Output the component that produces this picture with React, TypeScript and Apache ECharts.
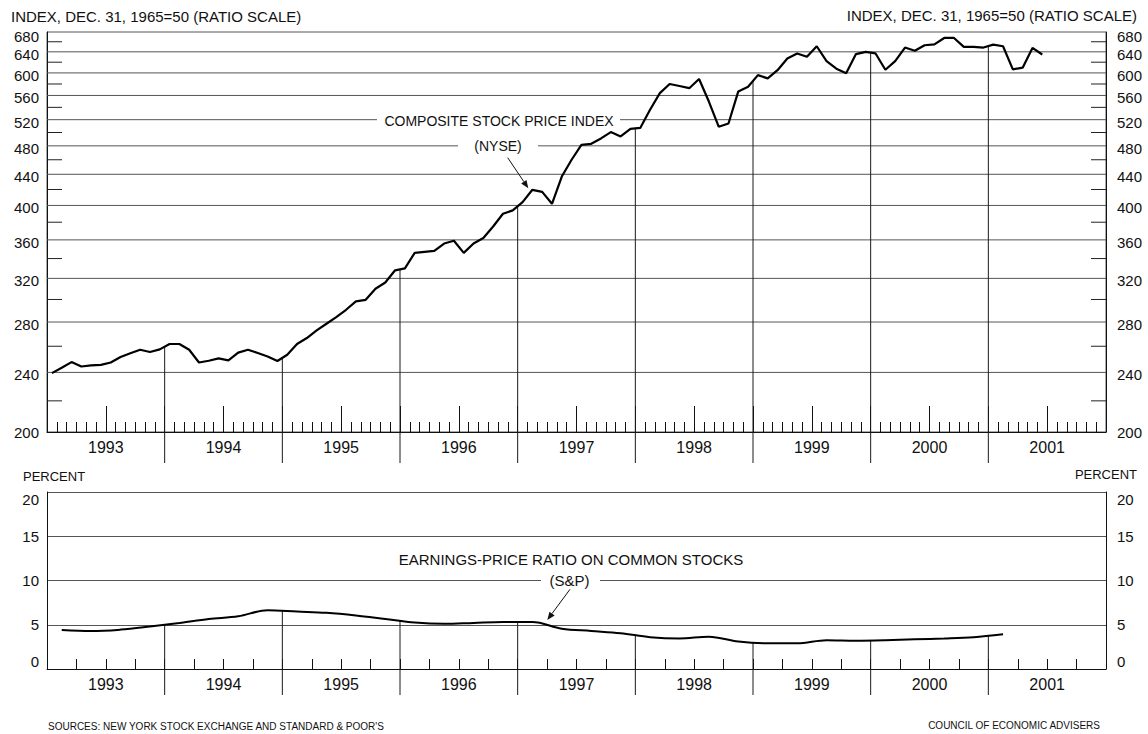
import React, { useEffect, useRef } from "react";
import * as echarts from "echarts";

const FONT = "'Liberation Sans', Arial, sans-serif";

const yearLabels = ["1993", "1994", "1995", "1996", "1997", "1998", "1999", "2000", "2001"];

// NYSE composite stock price index, monthly (Dec. 31, 1965 = 50)
const nyse1993 = [239.5, 243.5, 247.7, 244.4, 245.2, 245.6, 247.4, 251.6, 254.5, 257.2, 255.5, 257.5];
const nyse1994 = [261.8, 261.8, 257.2, 247.4, 248.7, 250.5, 249, 255, 257.2, 254.7, 252, 248.5];
const nyse1995 = [253.3, 261.8, 266.6, 272.9, 278.5, 284.3, 290.7, 298.2, 299.7, 310, 316, 328];
const nyse1996 = [330, 346, 347, 348, 356, 359, 346, 356, 362, 375, 390, 394];
const nyse1997 = [404, 419.6, 417, 402, 437, 460, 481.5, 483, 491, 500.6, 494, 505.6];
const nyse1998 = [507, 536, 564, 580, 576.5, 572.6, 589, 549.7, 509, 514, 567, 575];
const nyse1999 = [596, 590, 605, 627, 636.8, 630.3, 651, 622, 607.7, 599.4, 635.5, 640];
const nyse2000 = [636.8, 605.8, 622, 648.4, 642, 653, 654.8, 667.7, 667.7, 649.7, 649.7, 648.4];
const nyse2001 = [654.2, 651, 606.5, 609.7, 647.7, 634.8];

// Earnings-price ratio on common stocks (S&P), quarterly, percent
const ep1993 = [4.4, 4.28, 4.45, 4.8];
const ep1994 = [5.2, 5.65, 5.95, 6.65];
const ep1995 = [6.5, 6.35, 6.05, 5.65];
const ep1996 = [5.25, 5.1, 5.2, 5.3];
const ep1997 = [5.3, 4.55, 4.3, 4.05];
const ep1998 = [3.6, 3.45, 3.65, 3.1];
const ep1999 = [2.9, 2.9, 3.25, 3.2];
const ep2000 = [3.25, 3.35, 3.45, 3.6];
const ep2001 = [3.92];

const indexTicks = [200, 240, 280, 320, 360, 400, 440, 480, 520, 560, 600, 640, 680];
const indexMinorTicks = [220, 260, 300, 340, 380, 420, 460, 500, 540, 580, 620, 660];
const percentTicks = [0, 5, 10, 15, 20];

const nyseComposite = [
  ...nyse1993, ...nyse1994, ...nyse1995, ...nyse1996, ...nyse1997,
  ...nyse1998, ...nyse1999, ...nyse2000, ...nyse2001,
];
const epRatio = [
  ...ep1993, ...ep1994, ...ep1995, ...ep1996, ...ep1997,
  ...ep1998, ...ep1999, ...ep2000, ...ep2001,
];

const MONTHS = yearLabels.length * 12;
const INDEX_MIN = indexTicks[0];
const INDEX_MAX = indexTicks[indexTicks.length - 1];

function arrow(x1: number, y1: number, x2: number, y2: number) {
  const dx = x2 - x1;
  const dy = y2 - y1;
  const L = Math.hypot(dx, dy);
  const ux = dx / L;
  const uy = dy / L;
  const hl = 8;
  const hw = 3.2;
  const bx = x2 - ux * hl;
  const by = y2 - uy * hl;
  return [
    { type: "line", z: 30, shape: { x1, y1, x2: bx, y2: by }, style: { stroke: "#111", lineWidth: 1 } },
    {
      type: "polygon",
      z: 30,
      shape: { points: [[x2, y2], [bx - uy * hw, by + ux * hw], [bx + uy * hw, by - ux * hw]] },
      style: { fill: "#111" },
    },
  ];
}

function label(text: string, x: number, y: number, size: number, align = "left", extra: any = {}) {
  return {
    type: "text",
    z: 30,
    x,
    y,
    style: {
      text,
      fill: "#111",
      font: `${size}px ${FONT}`,
      textAlign: align,
      textVerticalAlign: "middle",
      ...extra,
    },
  };
}

function whiteGap(x: number, y: number, w: number, h: number) {
  return { type: "rect", z: 25, shape: { x, y, width: w, height: h }, style: { fill: "#fff" } };
}

function buildOption(): any {
  const nysePoints = nyseComposite.map((v, i) => [i + 0.5, v]);
  const epPoints = epRatio.map((v, q) => [q * 3 + 1.5, v]);

  const nyseDrops: number[][] = [];
  for (let k = 1; k < yearLabels.length; k++) {
    const b = k * 12;
    if (b < nyseComposite.length) nyseDrops.push([b, Math.sqrt(nyseComposite[b - 1] * nyseComposite[b])]);
  }
  const epDrops: number[][] = [];
  for (let k = 1; k < yearLabels.length; k++) {
    const q = k * 4;
    if (q < epRatio.length) epDrops.push([q * 3, (epRatio[q - 1] + epRatio[q]) / 2]);
  }

  const dropRender = (base: number, ext: number) => (params: any, api: any) => {
    const x = api.value(0);
    const v = api.value(1);
    const p = api.coord([x, v]);
    const b = api.coord([x, base]);
    return {
      type: "line",
      shape: { x1: p[0], y1: p[1], x2: p[0], y2: b[1] + ext },
      style: { stroke: "#1a1a1a", lineWidth: 1 },
    };
  };

  const gridRender = (params: any, api: any) => {
    const v = api.value(1);
    const a = api.coord([0, v]);
    const b = api.coord([MONTHS, v]);
    return {
      type: "line",
      shape: { x1: a[0], y1: a[1], x2: b[0], y2: b[1] },
      style: { stroke: "#555", lineWidth: 1 },
    };
  };

  const minorRender = (params: any, api: any) => {
    const v = api.value(1);
    const a = api.coord([0, v]);
    const b = api.coord([MONTHS, v]);
    const st = { stroke: "#222", lineWidth: 1 };
    return {
      type: "group",
      children: [
        { type: "line", shape: { x1: a[0], y1: a[1], x2: a[0] + 15, y2: a[1] }, style: st },
        { type: "line", shape: { x1: b[0] - 15, y1: b[1], x2: b[0], y2: b[1] }, style: st },
      ],
    };
  };

  const yearFormatter = (v: number) => {
    const m = Math.round(v);
    if (m % 12 !== 6) return "";
    const idx = (m - 6) / 12;
    return yearLabels[idx] ?? "";
  };

  const axisLineStyle = { color: "#111", width: 1 };
  const tickLabelStyle = { color: "#111", fontFamily: FONT, fontSize: 15 };

  // top label listed first so the library's min/max overlap pruning keeps every label
  const indexLabelValues = [INDEX_MAX, ...indexTicks.filter((v) => v !== INDEX_MAX)];

  const indexAxis = (position: string, margin: number) => ({
    gridIndex: 0,
    type: "log",
    logBase: 10,
    min: INDEX_MIN,
    max: INDEX_MAX,
    position,
    axisLine: { show: true, lineStyle: axisLineStyle },
    axisTick: { show: false },
    splitLine: { show: false },
    minorTick: { show: false },
    axisLabel: {
      ...tickLabelStyle,
      margin,
      customValues: indexLabelValues,
      showMinLabel: true,
      showMaxLabel: true,
      formatter: (v: number) => {
        const r = Math.round(v);
        if (r === INDEX_MAX) return `{hi|${r}}`;
        if (r === INDEX_MIN) return `{lo|${r}}`;
        return `{n|${r}}`;
      },
      rich: {
        hi: { ...tickLabelStyle, padding: [8, 0, 0, 0] },
        n: { ...tickLabelStyle, padding: [5, 0, 0, 0] },
        lo: { ...tickLabelStyle },
      },
    },
  });

  return {
    animation: false,
    backgroundColor: "#fff",
    grid: [
      { left: 47, top: 32, width: 1059, height: 400, show: true, borderColor: "#555", borderWidth: 1, backgroundColor: "transparent" },
      { left: 47, top: 492, width: 1059, height: 177 },
    ],
    xAxis: [
      {
        gridIndex: 0,
        type: "value",
        min: 0,
        max: MONTHS,
        interval: 6,
        axisLine: { show: true, lineStyle: axisLineStyle },
        axisTick: { show: true, inside: true, length: 26, lineStyle: axisLineStyle },
        minorTick: { show: true, splitNumber: 6, length: 10, lineStyle: axisLineStyle },
        splitLine: { show: false },
        minorSplitLine: { show: false },
        axisLabel: { show: true, margin: 7, color: "#111", fontFamily: FONT, fontSize: 16, formatter: yearFormatter },
      },
      {
        gridIndex: 1,
        type: "value",
        min: 0,
        max: MONTHS,
        interval: 3,
        axisLine: { show: true, lineStyle: axisLineStyle },
        axisTick: { show: true, inside: true, length: 10, lineStyle: axisLineStyle },
        splitLine: { show: false },
        axisLabel: { show: true, margin: 7, color: "#111", fontFamily: FONT, fontSize: 16, formatter: yearFormatter },
      },
    ],
    yAxis: [
      indexAxis("left", 8),
      indexAxis("right", 11),
      {
        gridIndex: 1,
        type: "value",
        min: percentTicks[0],
        max: percentTicks[percentTicks.length - 1],
        interval: 5,
        position: "left",
        axisLine: { show: true, lineStyle: axisLineStyle },
        axisTick: { show: false },
        splitLine: { show: true, lineStyle: { color: "#555", width: 1 } },
        axisLabel: { ...tickLabelStyle, margin: 8, verticalAlignMaxLabel: "top", verticalAlignMinLabel: "bottom" },
      },
      {
        gridIndex: 1,
        type: "value",
        min: percentTicks[0],
        max: percentTicks[percentTicks.length - 1],
        interval: 5,
        position: "right",
        axisLine: { show: true, lineStyle: axisLineStyle },
        axisTick: { show: false },
        splitLine: { show: false },
        axisLabel: { ...tickLabelStyle, margin: 11, verticalAlignMaxLabel: "top", verticalAlignMinLabel: "bottom" },
      },
    ],
    series: [
      {
        type: "custom",
        name: "index gridlines",
        xAxisIndex: 0,
        yAxisIndex: 0,
        z: 1,
        silent: true,
        clip: false,
        data: indexTicks.filter((v) => v > INDEX_MIN && v < INDEX_MAX).map((v) => [0, v]),
        renderItem: gridRender,
      },
      {
        type: "custom",
        name: "index minor ticks",
        xAxisIndex: 0,
        yAxisIndex: 0,
        z: 1,
        silent: true,
        clip: false,
        data: indexMinorTicks.map((v) => [0, v]),
        renderItem: minorRender,
      },
      {
        type: "custom",
        name: "index year lines",
        xAxisIndex: 0,
        yAxisIndex: 0,
        z: 2,
        silent: true,
        clip: false,
        data: nyseDrops,
        renderItem: dropRender(INDEX_MIN, 31),
      },
      {
        type: "line",
        name: "Composite stock price index (NYSE)",
        xAxisIndex: 0,
        yAxisIndex: 0,
        z: 5,
        data: nysePoints,
        symbol: "none",
        lineStyle: { color: "#000", width: 2.2 },
      },
      {
        type: "custom",
        name: "ep year lines",
        xAxisIndex: 1,
        yAxisIndex: 2,
        z: 2,
        silent: true,
        clip: false,
        data: epDrops,
        renderItem: dropRender(0, 26),
      },
      {
        type: "line",
        name: "Earnings-price ratio on common stocks (S&P)",
        xAxisIndex: 1,
        yAxisIndex: 2,
        z: 5,
        data: epPoints,
        symbol: "none",
        smooth: 0.35,
        lineStyle: { color: "#000", width: 2 },
      },
    ],
    graphic: [
      label("INDEX, DEC. 31, 1965=50 (RATIO SCALE)", 11, 16, 15, "left"),
      label("INDEX, DEC. 31, 1965=50 (RATIO SCALE)", 1137, 15, 15, "right"),
      label("PERCENT", 23, 476, 13, "left"),
      label("PERCENT", 1137, 474, 13, "right"),
      whiteGap(377, 116, 243, 8),
      label("COMPOSITE STOCK PRICE INDEX", 499, 120.5, 14, "center"),
      whiteGap(458, 142, 80, 8),
      label("(NYSE)", 498, 146, 14, "center"),
      ...arrow(507.7, 157.7, 528.3, 188.3),
      label("EARNINGS-PRICE RATIO ON COMMON STOCKS", 571, 559, 15, "center"),
      whiteGap(541, 577, 59, 8),
      label("(S&P)", 569.5, 580.5, 15, "center"),
      ...arrow(570, 589.3, 547.3, 620),
      label("SOURCES: NEW YORK STOCK EXCHANGE AND STANDARD & POOR'S", 48, 726, 10, "left"),
      label("COUNCIL OF ECONOMIC ADVISERS", 1100, 725, 10, "right"),
    ],
  };
}

export default function App() {
  const ref = useRef<HTMLDivElement>(null);
  useEffect(() => {
    if (!ref.current) return;
    const chart = echarts.init(ref.current, null, { renderer: "svg" });
    chart.setOption(buildOption());
    return () => chart.dispose();
  }, []);
  return (
    <div
      ref={ref}
      style={{ position: "fixed", left: 0, top: 0, width: 1148, height: 734, background: "#fff" }}
    />
  );
}
